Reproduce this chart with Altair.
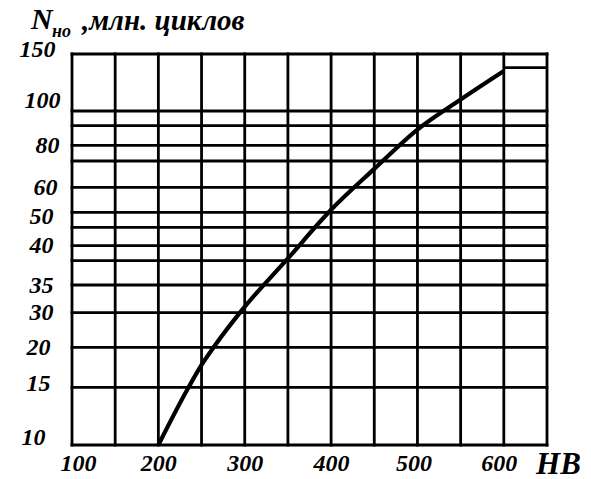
import altair as alt
import pandas as pd

# Curve: hardness HB vs base number of cycles N_HO (million cycles)
hb_values = [200, 235, 250, 264, 297, 350, 400, 450, 500, 550, 600]
n_values = [10, 15, 17.8, 20, 30.5, 38.3, 51, 67, 88, 110, 135]

# Grid
hb_grid = [100, 150, 200, 250, 300, 350, 400, 450, 500, 550, 600, 650]
n_grid = [10, 15, 20, 30, 35, 38, 40, 45, 50, 60, 70, 80, 90, 100, 150]
n_marker = 138          # short line in the last column
hb_marker = [600, 650]

# Tick labels
hb_ticks = [100, 200, 300, 400, 500, 600]
n_ticks = [10, 15, 20, 30, 35, 40, 50, 60, 80, 100, 150]

# Nomogram ordinate: piecewise scale through the grid values
Y_PIXELS = [391, 333.3, 293.3, 258.7, 231, 206.7, 191.7, 173.3, 158.3,
            133.3, 107, 91.3, 71.7, 57, 0]

FONT = "Liberation Serif"
W, H = 475, 391
GRID_W = 2.8


def per_label(shifts, default):
    return {
        "condition": [{"test": f"datum.value == {v}", "value": s} for v, s in shifts.items()],
        "value": default,
    }


xscale = alt.Scale(domain=[100, 650], nice=False, zero=False)
yscale = alt.Scale(domain=n_grid, range=Y_PIXELS, nice=False, zero=False)

curve_df = pd.DataFrame({"hb": hb_values, "n": n_values})
vgrid_df = pd.DataFrame({"hb": hb_grid})
hgrid_df = pd.DataFrame({"n": n_grid})
marker_df = pd.DataFrame({"hb": [hb_marker[0]], "hb2": [hb_marker[1]], "n": [n_marker]})

x_axis = alt.Axis(
    values=hb_ticks, grid=False, ticks=False, tickSize=0, domain=False,
    labelFont=FONT, labelFontSize=24, labelFontStyle="italic", labelFontWeight="bold",
    labelColor="black", labelBaseline="middle", labelPadding=18,
    labelFlush=False, labelOverlap=False,
    labelOffset=per_label({100: 6, 500: -4, 600: -5}, 0),
    title="HB", titleFont=FONT, titleFontSize=31, titleFontStyle="italic",
    titleFontWeight="bold", titleColor="black", titleX=486, titleY=19,
    titleBaseline="middle", titleAlign="center",
)

y_axis = alt.Axis(
    values=n_ticks, grid=False, ticks=False, tickSize=0, domain=False,
    labelFont=FONT, labelFontSize=24, labelFontStyle="italic", labelFontWeight="bold",
    labelColor="black", labelAlign="right", labelBaseline="middle",
    labelFlush=False, labelOverlap=False,
    labelPadding=per_label({150: 17, 100: 12, 80: 13, 60: 15, 20: 22, 15: 22, 10: 27}, 19),
    labelOffset=per_label({150: -5, 100: -11, 50: 4, 15: -4, 10: -8}, 0),
    title=None,
)

X = alt.X("hb:Q", scale=xscale, axis=x_axis)
Y = alt.Y("n:Q", scale=yscale, axis=y_axis)

vgrid = alt.Chart(vgrid_df).mark_rule(color="black", strokeWidth=GRID_W, strokeCap="square").encode(
    x=X
)
hgrid = alt.Chart(hgrid_df).mark_rule(color="black", strokeWidth=GRID_W, strokeCap="square").encode(
    y=Y
)
marker = alt.Chart(marker_df).mark_rule(color="black", strokeWidth=GRID_W).encode(
    x=X, x2="hb2:Q", y=Y
)
curve = alt.Chart(curve_df).mark_line(
    color="black", strokeWidth=4.2, interpolate="monotone", strokeCap="butt"
).encode(x=X, y=Y)

one = pd.DataFrame({"k": [0]})
title_n = alt.Chart(one).mark_text(
    text="N", font=FONT, fontSize=30, fontStyle="italic", fontWeight="bold",
    align="left", baseline="alphabetic", color="black",
).encode(x=alt.value(-41), y=alt.value(-25))
title_sub = alt.Chart(one).mark_text(
    text="но", font=FONT, fontSize=18, fontStyle="italic", fontWeight="bold",
    align="left", baseline="alphabetic", color="black",
).encode(x=alt.value(-20), y=alt.value(-17))
title_rest = alt.Chart(one).mark_text(
    text=",млн. циклов", font=FONT, fontSize=29, fontStyle="italic", fontWeight="bold",
    align="left", baseline="alphabetic", color="black",
).encode(x=alt.value(10), y=alt.value(-24))

chart = alt.layer(vgrid, hgrid, marker, curve, title_n, title_sub, title_rest).properties(
    width=W, height=H,
    autosize=alt.AutoSizeParams(type="none"),
    padding={"left": 72, "top": 54, "right": 44, "bottom": 34},
    background="white",
).configure_view(stroke=None)

chart.save("out.html", embed_options={"renderer": "svg", "actions": False})
